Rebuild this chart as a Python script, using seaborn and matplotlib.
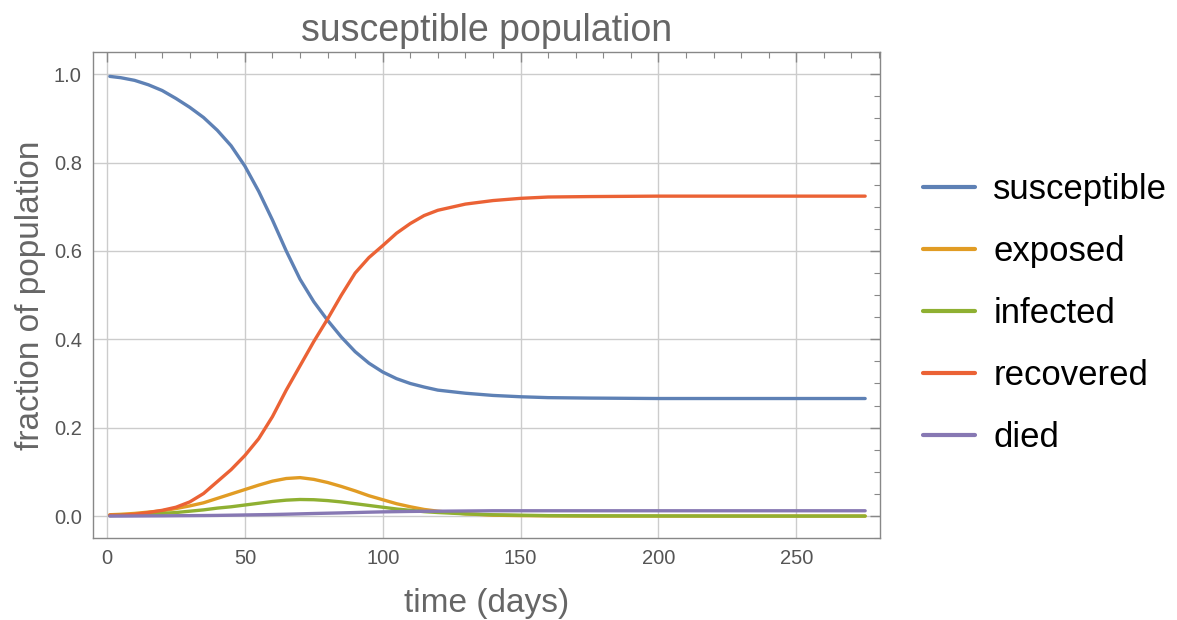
import numpy as np
import pandas as pd
import seaborn as sns
import matplotlib
matplotlib.use("Agg")
import matplotlib.pyplot as plt
from matplotlib.ticker import MultipleLocator

# values
days = [1, 5, 10, 15, 20, 25, 30, 35, 40, 45, 50, 55, 60, 65, 70, 75, 80, 85, 90,
        95, 100, 105, 110, 115, 120, 130, 140, 150, 160, 175, 200, 225, 250, 275]

susceptible = [0.995, 0.992, 0.986, 0.976, 0.963, 0.945, 0.925, 0.902, 0.873, 0.838,
               0.792, 0.735, 0.670, 0.600, 0.536, 0.485, 0.443, 0.405, 0.372, 0.346,
               0.326, 0.311, 0.300, 0.292, 0.285, 0.278, 0.273, 0.270, 0.268, 0.267,
               0.266, 0.266, 0.266, 0.266]
exposed = [0.003, 0.004, 0.006, 0.009, 0.012, 0.017, 0.023, 0.030, 0.040, 0.050,
           0.060, 0.070, 0.079, 0.085, 0.087, 0.083, 0.076, 0.067, 0.057, 0.046,
           0.037, 0.028, 0.021, 0.015, 0.011, 0.005, 0.002, 0.001, 0.0005, 0.0,
           0.0, 0.0, 0.0, 0.0]
infected = [0.001, 0.002, 0.003, 0.004, 0.006, 0.008, 0.011, 0.014, 0.018, 0.021,
            0.025, 0.029, 0.033, 0.036, 0.0375, 0.037, 0.035, 0.032, 0.028, 0.024,
            0.020, 0.016, 0.013, 0.010, 0.008, 0.005, 0.003, 0.002, 0.001, 0.0006,
            0.0003, 0.0001, 0.0, 0.0]
recovered = [0.002, 0.002, 0.004, 0.008, 0.013, 0.020, 0.032, 0.051, 0.078, 0.105,
             0.137, 0.175, 0.225, 0.285, 0.340, 0.395, 0.446, 0.500, 0.550, 0.585,
             0.612, 0.640, 0.662, 0.680, 0.692, 0.706, 0.714, 0.719, 0.722, 0.723,
             0.724, 0.724, 0.724, 0.724]
died = [0.0, 0.0, 0.0002, 0.0004, 0.0005, 0.0008, 0.001, 0.0012, 0.0015, 0.002,
        0.0025, 0.003, 0.0035, 0.0042, 0.005, 0.0058, 0.0065, 0.0072, 0.008, 0.0088,
        0.0095, 0.010, 0.0105, 0.0108, 0.011, 0.0115, 0.012, 0.012, 0.012, 0.012,
        0.012, 0.012, 0.012, 0.012]

names = ["susceptible", "exposed", "infected", "recovered", "died"]
colors = ["#5E81B5", "#E19C24", "#8FB032", "#EB6235", "#8778B3"]

df = pd.DataFrame({"time": days, "susceptible": susceptible, "exposed": exposed,
                   "infected": infected, "recovered": recovered, "died": died})
long = df.melt(id_vars="time", var_name="group", value_name="fraction")

sns.set_style("white")
plt.rcParams['font.family'] = ['Liberation Sans', 'DejaVu Sans']

fig = plt.figure(figsize=(11.77, 6.2), dpi=100)
ax = fig.add_axes([0.079, 0.132, 0.6687, 0.784])

sns.lineplot(data=long, x="time", y="fraction", hue="group", hue_order=names,
             palette=colors, linewidth=2.4, ax=ax)

ax.set_xlim(-5.1, 280.4)
ax.set_ylim(-0.05, 1.05)
ax.xaxis.set_major_locator(MultipleLocator(50))
ax.xaxis.set_minor_locator(MultipleLocator(10))
ax.set_yticks([0, 0.2, 0.4, 0.6, 0.8, 1.0])
ax.set_yticklabels(["0.0", "0.2", "0.4", "0.6", "0.8", "1.0"])
ax.yaxis.set_minor_locator(MultipleLocator(0.05))
ax.grid(True, which="major", color="#cccccc", linewidth=1)

ax.tick_params(which="both", direction="in", top=True, right=True, color="#888888",
               labelsize=14.5, labelcolor="#555555", pad=8)
ax.tick_params(which="major", length=7, width=1)
ax.tick_params(which="minor", length=4, width=0.8)
for s in ax.spines.values():
    s.set_color("#888888")
    s.set_linewidth(1)

ax.set_title("susceptible population", fontsize=27, color="#666666", pad=8)
ax.set_xlabel("time (days)", fontsize=24, color="#666666", labelpad=14)
ax.set_ylabel("fraction of population", fontsize=24, color="#666666", labelpad=6)

leg = ax.legend(loc="center left", bbox_to_anchor=(1.037, 0.462), frameon=False,
                fontsize=25, handlelength=1.5, labelspacing=0.84, handletextpad=0.52,
                borderaxespad=0, labelcolor="black")
for line in leg.get_lines():
    line.set_linewidth(3)

fig.savefig("out.png", dpi=100)
